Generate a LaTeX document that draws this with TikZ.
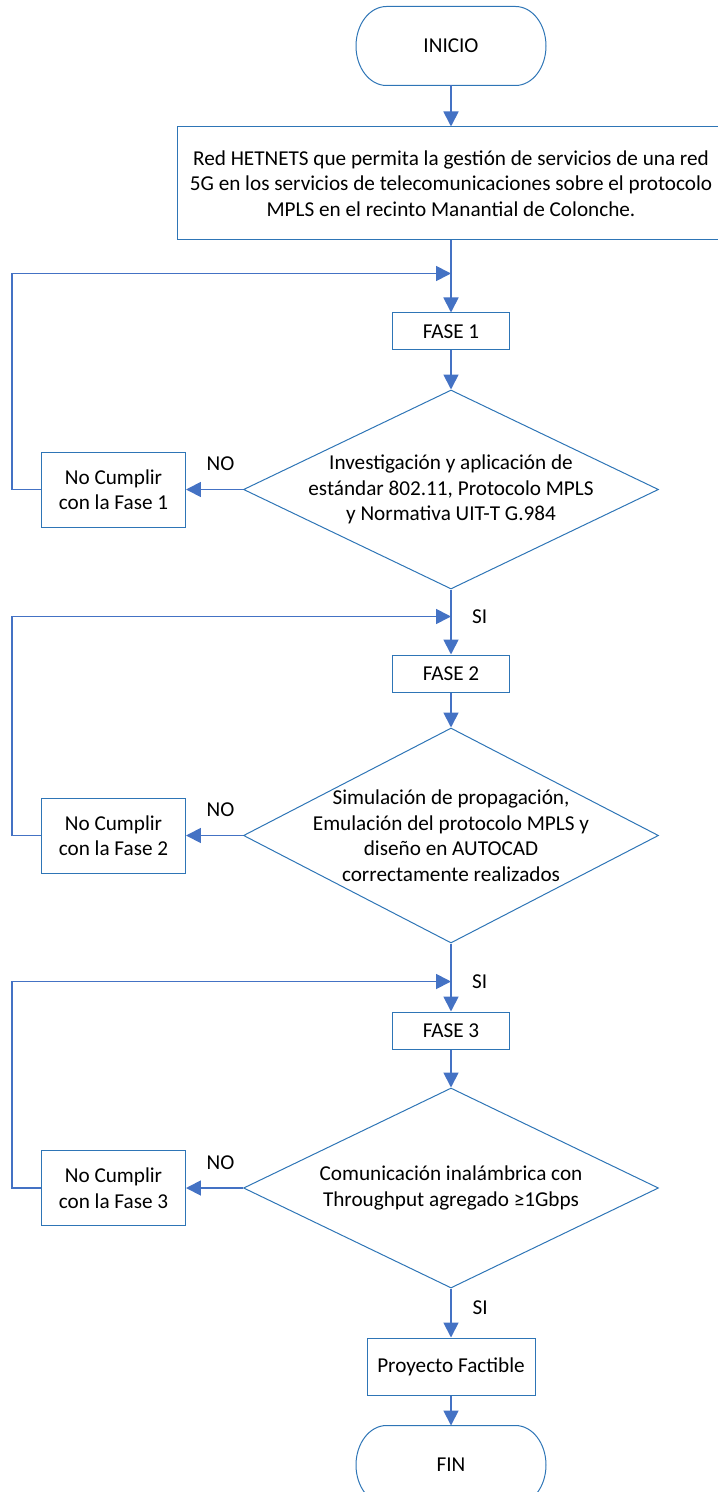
\documentclass[tikz,border=0pt]{standalone}
\usepackage{fontspec}
\setmainfont{Carlito}
\usepackage{tikz}
\usetikzlibrary{shapes.geometric, arrows.meta, positioning}

\definecolor{shapeblue}{RGB}{46,117,182}
\definecolor{linkblue}{RGB}{68,114,196}

\tikzset{
    txt/.style={font=\fontsize{10.6}{12.75}\selectfont, align=center},
    term/.style={txt, minimum width=95pt, minimum height=39.5pt, outer sep=0pt},
    proc/.style={txt, draw=shapeblue, line width=0.5pt, inner sep=2pt},
    decision/.style={diamond, draw=shapeblue, line width=0.5pt, minimum width=207.5pt, inner sep=0pt},
    nocum/.style={proc, minimum width=72pt, minimum height=37.5pt},
    link/.style={draw=linkblue, line width=0.9pt, -{Triangle[length=7.5pt,width=7.5pt]}},
    lbl/.style={txt, inner sep=3.4pt},
}

\begin{document}
\begin{tikzpicture}
    \useasboundingbox (-225.5pt,23pt) rectangle (133pt,-723pt);

    \node (ini) [term] {INICIO};
    \node (red) [proc, below=20.5pt of ini, minimum width=273pt, minimum height=56.5pt]
        {Red HETNETS que permita la gestión de servicios de una red\\
         5G en los servicios de telecomunicaciones sobre el protocolo\\
         MPLS en el recinto Manantial de Colonche.};
    \coordinate [below=16.5pt of red.south] (j1);

    \node (f1) [proc, below=36pt of red, minimum width=58.5pt, minimum height=18.5pt] {FASE 1};
    \node (d1) [decision, below=19.5pt of f1, minimum height=99.5pt,
        label={[txt]center:Investigación y aplicación de\\estándar 802.11, Protocolo MPLS\\y Normativa UIT-T G.984}] {};
    \node (n1) [nocum, left=28.5pt of d1] {No Cumplir\\con la Fase 1};
    \coordinate [below=13.5pt of d1.south] (j2);

    \node (f2) [proc, below=32.5pt of d1, minimum width=58.5pt, minimum height=18.5pt] {FASE 2};
    \node (d2) [decision, below=17.5pt of f2, minimum height=107.5pt,
        label={[txt]center:Simulación de propagación,\\Emulación del protocolo MPLS y\\diseño en AUTOCAD\\correctamente realizados}] {};
    \node (n2) [nocum, left=28.5pt of d2] {No Cumplir\\con la Fase 2};
    \coordinate [below=19pt of d2.south] (j3);

    \node (f3) [proc, below=34pt of d2, minimum width=58.5pt, minimum height=18.5pt] {FASE 3};
    \node (d3) [decision, below=19pt of f3, minimum height=100pt,
        label={[txt]center:Comunicación inalámbrica con\\Throughput agregado ≥1Gbps}] {};
    \node (n3) [nocum, left=28.5pt of d3] {No Cumplir\\con la Fase 3};

    \node (pf) [proc, below=24.5pt of d3, minimum width=84pt, minimum height=28.5pt] {Proyecto Factible};
    \node (fin) [term, below=15pt of pf] {FIN};

    % terminales (extremos elipticos)
    \foreach \t in {ini, fin}
        \draw [draw=shapeblue, line width=0.5pt]
            ([xshift=15.25pt]\t.north west) -- ([xshift=-15.25pt]\t.north east)
            arc [start angle=90, end angle=-90, x radius=15.25pt, y radius=19.75pt]
            -- ([xshift=15.25pt]\t.south west)
            arc [start angle=270, end angle=90, x radius=15.25pt, y radius=19.75pt]
            -- cycle;

    % flujo principal
    \draw [link] (ini) -- (red);
    \draw [link] (red) -- (f1);
    \draw [link] (f1) -- (d1);
    \draw [link] (d1) -- (f2);
    \draw [link] (f2) -- (d2);
    \draw [link] (d2) -- (f3);
    \draw [link] (f3) -- (d3);
    \draw [link] (d3) -- node[lbl, right=7pt, pos=0.4] {SI} (pf);
    \draw [link] (pf) -- (fin);

    \node [lbl, right=7pt of j2] {SI};
    \node [lbl, right=7pt of j3] {SI};

    % ramas NO
    \draw [link] (d1.west) -- node[lbl, above=5.5pt, xshift=3pt] {NO} (n1.east);
    \draw [link] (d2.west) -- node[lbl, above=5.5pt, xshift=3pt] {NO} (n2.east);
    \draw [link] (d3.west) -- node[lbl, above=5.5pt, xshift=3pt] {NO} (n3.east);

    \draw [link] (n1.west) -- ++(-14.5pt,0) |- (j1);
    \draw [link] (n2.west) -- ++(-14.5pt,0) |- (j2);
    \draw [link] (n3.west) -- ++(-14.5pt,0) |- (j3);
\end{tikzpicture}
\end{document}
